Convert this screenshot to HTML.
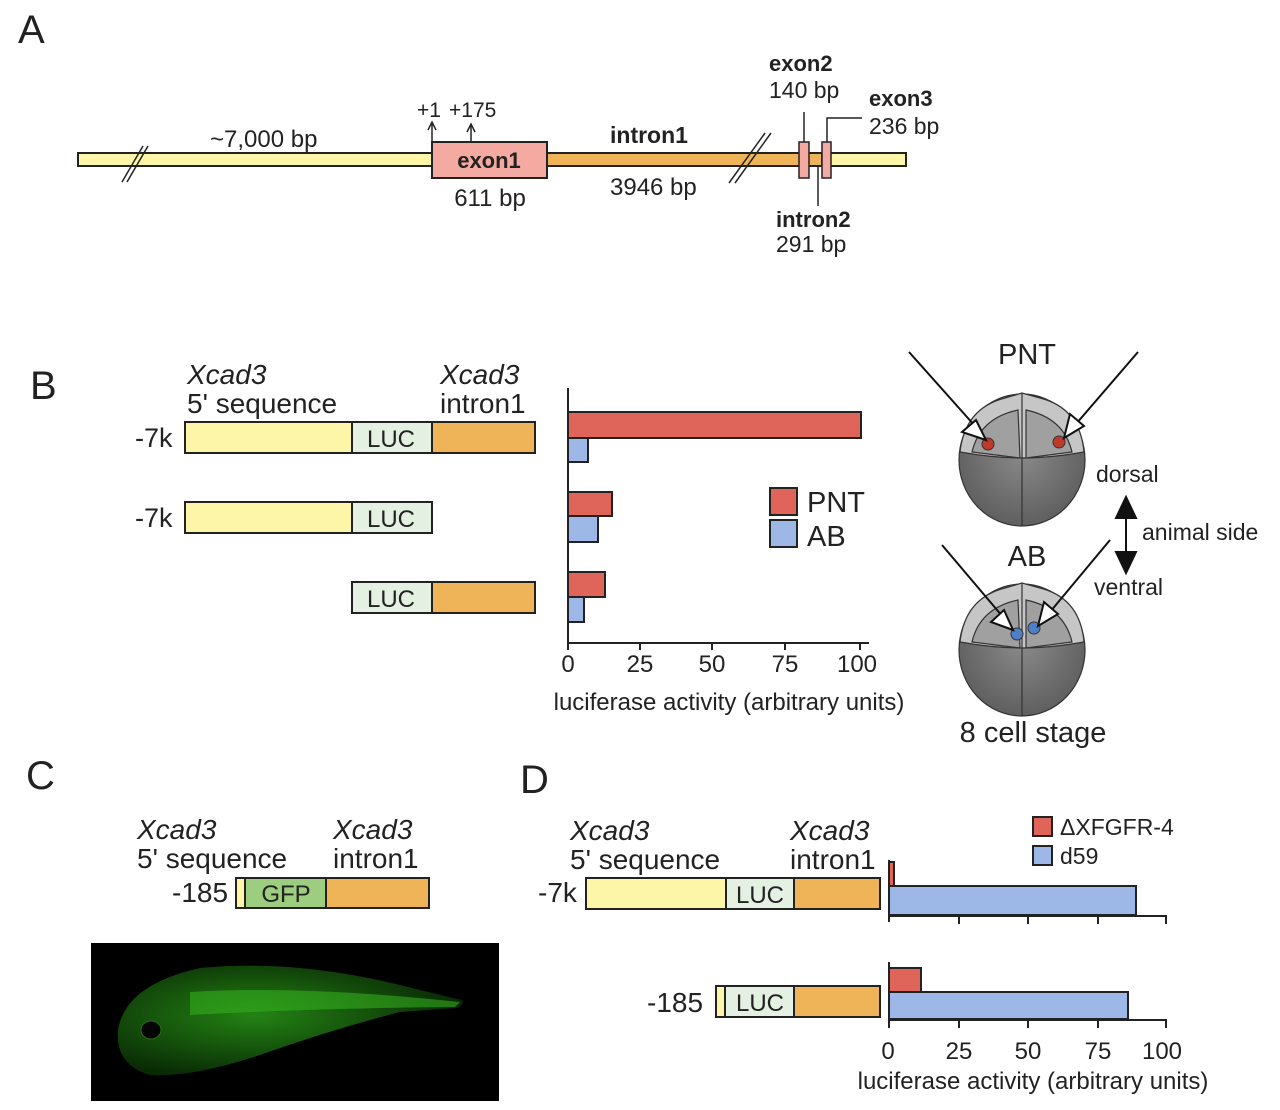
<!DOCTYPE html>
<html><head><meta charset="utf-8"><style>
html,body{margin:0;padding:0;background:#fff;}
svg{display:block;}
text{font-family:"Liberation Sans",sans-serif;fill:#222;}
.b{font-weight:bold;}
.i{font-style:italic;}
</style></head><body>
<svg width="1280" height="1110" viewBox="0 0 1280 1110" xmlns="http://www.w3.org/2000/svg">
<defs>
<radialGradient id="emb" cx="50%" cy="45%" r="55%">
<stop offset="0" stop-color="#8a8a8a"/><stop offset="1" stop-color="#5f5f5f"/>
</radialGradient>
<radialGradient id="fishg" cx="40%" cy="45%" r="60%">
<stop offset="0" stop-color="#2a9a18"/><stop offset="1" stop-color="#0a3005"/>
</radialGradient>
</defs>
<!-- Panel labels -->
<text x="18" y="43" font-size="40">A</text>
<text x="30" y="399" font-size="40">B</text>
<text x="26" y="789" font-size="40">C</text>
<text x="520" y="793" font-size="40">D</text>

<!-- Panel A -->
<rect x="78" y="153" width="354" height="13" fill="#fdf6a8" stroke="#222" stroke-width="2"/>
<rect x="547" y="153" width="275" height="13" fill="#eeb457" stroke="#222" stroke-width="2"/>
<rect x="822" y="153" width="84" height="13" fill="#fdf6a8" stroke="#222" stroke-width="2"/>
<rect x="432" y="142" width="115" height="36" fill="#f4aaa0" stroke="#222" stroke-width="2"/>
<text x="489" y="168" font-size="22" class="b" text-anchor="middle">exon1</text>
<rect x="799" y="142" width="10" height="36" fill="#f4aaa0" stroke="#222" stroke-width="1.5"/>
<rect x="822" y="142" width="9" height="36" fill="#f4aaa0" stroke="#222" stroke-width="1.5"/>
<g stroke="#222" stroke-width="1.5">
<line x1="122" y1="182" x2="143" y2="146"/><line x1="127" y1="182" x2="148" y2="146"/>
<line x1="729" y1="183" x2="765" y2="133"/><line x1="735" y1="183" x2="771" y2="133"/>
</g>
<g stroke="#222" stroke-width="1.5" fill="none">
<line x1="432" y1="142" x2="432" y2="124"/><polyline points="428,130 432,122 436,130"/>
<line x1="471" y1="142" x2="471" y2="126"/><polyline points="467,132 471,124 475,132"/>
<line x1="804" y1="142" x2="804" y2="112"/>
<line x1="818" y1="166" x2="818" y2="206"/>
<polyline points="827,142 827,118 862,118"/>
</g>
<text x="417" y="117" font-size="21">+1</text>
<text x="449" y="117" font-size="21">+175</text>
<text x="210" y="147" font-size="24">~7,000 bp</text>
<text x="490" y="206" font-size="24" text-anchor="middle">611 bp</text>
<text x="610" y="143" font-size="23" class="b">intron1</text>
<text x="610" y="195" font-size="24">3946 bp</text>
<text x="769" y="71" font-size="22" class="b">exon2</text>
<text x="769" y="98" font-size="23">140 bp</text>
<text x="869" y="106" font-size="22" class="b">exon3</text>
<text x="869" y="134" font-size="23">236 bp</text>
<text x="776" y="227" font-size="22" class="b">intron2</text>
<text x="776" y="252" font-size="23">291 bp</text>

<!-- Panel B constructs -->
<text x="187" y="384" font-size="28" class="i">Xcad3</text>
<text x="187" y="413" font-size="28">5' sequence</text>
<text x="440" y="384" font-size="28" class="i">Xcad3</text>
<text x="440" y="413" font-size="28">intron1</text>
<g stroke="#222" stroke-width="2">
<rect x="185" y="422" width="167" height="31" fill="#fdf6a8"/>
<rect x="352" y="422" width="80" height="31" fill="#e3f0e2"/>
<rect x="432" y="422" width="103" height="31" fill="#eeb457"/>
<rect x="185" y="502" width="167" height="31" fill="#fdf6a8"/>
<rect x="352" y="502" width="80" height="31" fill="#e3f0e2"/>
<rect x="352" y="582" width="80" height="31" fill="#e3f0e2"/>
<rect x="432" y="582" width="103" height="31" fill="#eeb457"/>
</g>
<text x="391" y="447" font-size="24" text-anchor="middle">LUC</text>
<text x="391" y="527" font-size="24" text-anchor="middle">LUC</text>
<text x="391" y="607" font-size="24" text-anchor="middle">LUC</text>
<text x="135" y="447" font-size="27">-7k</text>
<text x="135" y="527" font-size="27">-7k</text>

<!-- Panel B chart -->
<g stroke="#222" stroke-width="2">
<rect x="568" y="412" width="293" height="26" fill="#df6459"/>
<rect x="568" y="438" width="20" height="24" fill="#9db8e6"/>
<rect x="568" y="492" width="44" height="24" fill="#df6459"/>
<rect x="568" y="516" width="30" height="26" fill="#9db8e6"/>
<rect x="568" y="572" width="37" height="25" fill="#df6459"/>
<rect x="568" y="597" width="16" height="25" fill="#9db8e6"/>
<line x1="568" y1="388" x2="568" y2="644"/>
<line x1="567" y1="643" x2="869" y2="643"/>
<line x1="640" y1="643" x2="640" y2="650"/><line x1="712" y1="643" x2="712" y2="650"/>
<line x1="785" y1="643" x2="785" y2="650"/><line x1="860" y1="643" x2="860" y2="650"/>
<line x1="568" y1="643" x2="568" y2="650"/>
<rect x="770" y="488" width="27" height="27" fill="#df6459"/>
<rect x="770" y="520" width="27" height="27" fill="#9db8e6"/>
</g>
<text x="807" y="512" font-size="29">PNT</text>
<text x="807" y="546" font-size="29">AB</text>
<g font-size="24" text-anchor="middle">
<text x="568" y="672">0</text><text x="640" y="672">25</text><text x="712" y="672">50</text><text x="785" y="672">75</text><text x="857" y="672">100</text>
</g>
<text x="729" y="710" font-size="24" text-anchor="middle">luciferase activity (arbitrary units)</text>

<!-- Embryos -->
<g stroke="#333" stroke-width="1.2">
<ellipse cx="1022" cy="460" rx="63" ry="66" fill="url(#emb)"/>
<path d="M960,452 Q965,408 1005,398 L1022,393 L1040,398 Q1080,408 1084,452 Q1050,458 1022,458 Q994,458 960,452Z" fill="#c6c6c6"/>
<path d="M972,452 Q980,418 1018,410 L1020,458 Z M1026,410 Q1064,418 1072,452 L1026,458Z" fill="#a0a0a0"/>
<line x1="1022" y1="393" x2="1022" y2="526"/>
<ellipse cx="1022" cy="650" rx="63" ry="66" fill="url(#emb)"/>
<path d="M960,642 Q965,598 1005,588 L1022,583 L1040,588 Q1080,598 1084,642 Q1050,648 1022,648 Q994,648 960,642Z" fill="#c6c6c6"/>
<path d="M972,642 Q980,608 1018,600 L1020,648 Z M1026,600 Q1064,608 1072,642 L1026,648Z" fill="#a0a0a0"/>
<line x1="1022" y1="583" x2="1022" y2="716"/>
</g>
<circle cx="988" cy="444" r="6" fill="#c0392b" stroke="#333"/>
<circle cx="1059" cy="442" r="6" fill="#c0392b" stroke="#333"/>
<circle cx="1017" cy="634" r="6" fill="#4f7fc7" stroke="#333"/>
<circle cx="1034" cy="628" r="6" fill="#4f7fc7" stroke="#333"/>
<g stroke="#111" stroke-width="2" fill="#fff">
<line x1="909" y1="352" x2="975" y2="426"/>
<polygon points="986,440 962,432 976,420" />
<line x1="1138" y1="352" x2="1076" y2="424"/>
<polygon points="1064,438 1070,414 1084,426"/>
<line x1="942" y1="545" x2="1003" y2="617"/>
<polygon points="1013,630 991,622 1004,610"/>
<line x1="1110" y1="540" x2="1050" y2="612"/>
<polygon points="1038,626 1044,602 1058,614"/>
</g>
<g fill="#111" stroke="#111" stroke-width="2">
<line x1="1126" y1="508" x2="1126" y2="562"/>
<polygon points="1116,518 1126,497 1136,518"/>
<polygon points="1116,552 1126,573 1136,552"/>
</g>
<text x="1027" y="364" font-size="29" text-anchor="middle">PNT</text>
<text x="1027" y="566" font-size="29" text-anchor="middle">AB</text>
<text x="1096" y="482" font-size="23">dorsal</text>
<text x="1142" y="540" font-size="23">animal side</text>
<text x="1094" y="595" font-size="23">ventral</text>
<text x="1033" y="742" font-size="29" text-anchor="middle">8 cell stage</text>

<!-- Panel C -->
<text x="137" y="839" font-size="28" class="i">Xcad3</text>
<text x="137" y="868" font-size="28">5' sequence</text>
<text x="333" y="839" font-size="28" class="i">Xcad3</text>
<text x="333" y="868" font-size="28">intron1</text>
<text x="172" y="902" font-size="28">-185</text>
<g stroke="#222" stroke-width="2">
<rect x="236" y="878" width="9" height="30" fill="#fdf6a8"/>
<rect x="245" y="878" width="81" height="30" fill="#9dcd7f"/>
<rect x="326" y="878" width="103" height="30" fill="#eeb457"/>
</g>
<text x="286" y="902" font-size="24" text-anchor="middle">GFP</text>
<rect x="91" y="943" width="408" height="158" fill="#000"/>
<path d="M118,1030 Q125,985 200,968 Q300,958 420,990 L462,1000 Q465,1006 455,1008 L400,1012 Q330,1030 260,1055 Q190,1078 150,1075 Q115,1065 118,1030Z" fill="url(#fishg)" opacity="0.85"/>
<path d="M190,992 Q300,985 460,1002 L455,1007 Q320,1008 190,1015Z" fill="#36b41f" opacity="0.55"/>
<ellipse cx="151" cy="1030" rx="10" ry="9" fill="#050505" stroke="#2a6a1a"/>

<!-- Panel D -->
<text x="570" y="840" font-size="28" class="i">Xcad3</text>
<text x="570" y="869" font-size="28">5' sequence</text>
<text x="790" y="840" font-size="28" class="i">Xcad3</text>
<text x="790" y="869" font-size="28">intron1</text>
<text x="538" y="902" font-size="28">-7k</text>
<text x="647" y="1012" font-size="28">-185</text>
<g stroke="#222" stroke-width="2">
<rect x="586" y="878" width="140" height="31" fill="#fdf6a8"/>
<rect x="726" y="878" width="68" height="31" fill="#e3f0e2"/>
<rect x="794" y="878" width="86" height="31" fill="#eeb457"/>
<rect x="716" y="986" width="9" height="31" fill="#fdf6a8"/>
<rect x="725" y="986" width="69" height="31" fill="#e3f0e2"/>
<rect x="794" y="986" width="86" height="31" fill="#eeb457"/>
<rect x="889" y="862" width="5" height="24" fill="#df6459"/>
<rect x="889" y="886" width="247" height="29" fill="#9db8e6"/>
<rect x="889" y="968" width="32" height="24" fill="#df6459"/>
<rect x="889" y="992" width="239" height="27" fill="#9db8e6"/>
<line x1="889" y1="860" x2="889" y2="922"/>
<line x1="889" y1="916" x2="1167" y2="916"/>
<line x1="889" y1="962" x2="889" y2="1028"/>
<line x1="889" y1="1020" x2="1167" y2="1020"/>
<line x1="959" y1="916" x2="959" y2="924"/><line x1="1028" y1="916" x2="1028" y2="924"/><line x1="1098" y1="916" x2="1098" y2="924"/><line x1="1166" y1="916" x2="1166" y2="924"/>
<line x1="959" y1="1020" x2="959" y2="1028"/><line x1="1028" y1="1020" x2="1028" y2="1028"/><line x1="1098" y1="1020" x2="1098" y2="1028"/><line x1="1166" y1="1020" x2="1166" y2="1028"/>
<rect x="1033" y="817" width="19" height="19" fill="#df6459"/>
<rect x="1033" y="846" width="19" height="19" fill="#9db8e6"/>
</g>
<text x="760" y="903" font-size="24" text-anchor="middle">LUC</text>
<text x="760" y="1011" font-size="24" text-anchor="middle">LUC</text>
<text x="1060" y="835" font-size="23">ΔXFGFR-4</text>
<text x="1060" y="864" font-size="23">d59</text>
<g font-size="24" text-anchor="middle">
<text x="888" y="1059">0</text><text x="959" y="1059">25</text><text x="1028" y="1059">50</text><text x="1098" y="1059">75</text><text x="1162" y="1059">100</text>
</g>
<text x="1033" y="1089" font-size="24" text-anchor="middle">luciferase activity (arbitrary units)</text>
</svg>
</body></html>
